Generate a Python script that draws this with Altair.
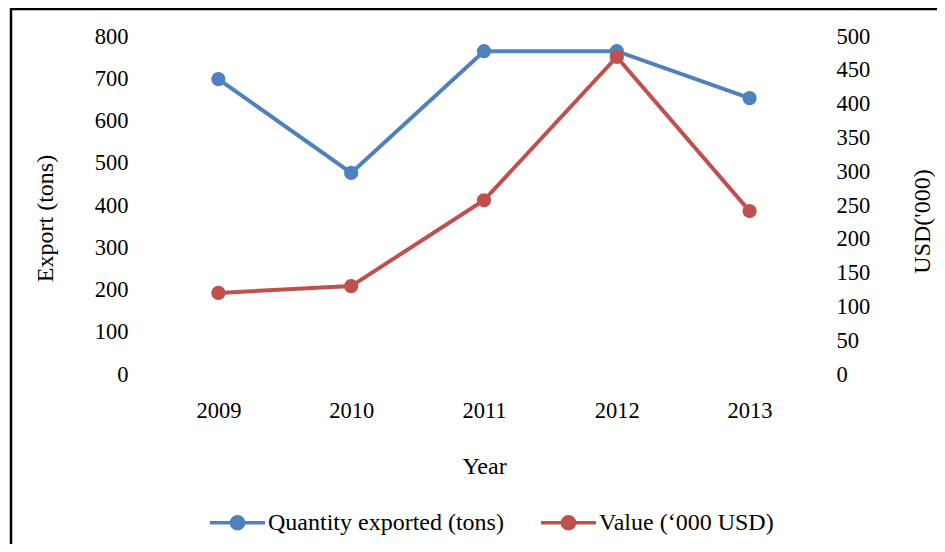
import altair as alt
import pandas as pd

years = ["2009", "2010", "2011", "2012", "2013"]
quantity_tons = [698, 476, 764, 764, 653]
value_usd_000 = [120, 130, 257, 469, 241]
series_names = ["Quantity exported (tons)", "Value (\u2018000 USD)"]
left_ticks = [0, 100, 200, 300, 400, 500, 600, 700, 800]
right_ticks = [0, 50, 100, 150, 200, 250, 300, 350, 400, 450, 500]

BLUE = "#4F81BD"
RED = "#C0504D"
FONT = "Liberation Serif"

df = pd.DataFrame({
    "Year": years * 2,
    "Series": [series_names[0]] * len(years) + [series_names[1]] * len(years),
    "Amount": quantity_tons + value_usd_000,
})

W, H = 664, 338
PAD_L, PAD_T = 144, 28
PAD_R = 929 - PAD_L - W
PAD_B = 536 - PAD_T - H

cscale = alt.Scale(domain=series_names, range=[BLUE, RED])
legend = alt.Legend(
    title=None, orient="none", direction="horizontal",
    legendX=56, legendY=457,
    symbolType="M-1,0L1,0M-0.22,0A0.22,0.22,0,1,1,0.22,0A0.22,0.22,0,1,1,-0.22,0Z",
    symbolSize=3025, symbolStrokeWidth=3.5,
    labelFont=FONT, labelFontSize=24, labelColor="black", labelLimit=0,
    labelOffset=1, columnPadding=30,
)

x_enc = alt.X(
    "Year:O",
    scale=alt.Scale(type="point", padding=0.5),
    axis=alt.Axis(title="Year", labelAngle=0, labelPadding=25, titleY=92,
                  titleBaseline="middle"),
)

left_axis = alt.Axis(
    title="Export (tons)", values=left_ticks, orient="left", labelPadding=24,
    titleAngle=-90, titleX=-107, titleY=182, titleAlign="center", titleBaseline="middle",
)
right_axis = alt.Axis(
    title="USD('000)", values=right_ticks, orient="right", labelPadding=20,
    titleAngle=-90, titleX=106, titleY=185, titleAlign="center", titleBaseline="middle",
)

blue_base = alt.Chart(df).transform_filter(
    alt.datum.Series == series_names[0]
).encode(
    x=x_enc,
    y=alt.Y("Amount:Q", scale=alt.Scale(domain=[0, 800], nice=False), axis=left_axis),
)
blue = alt.layer(
    blue_base.mark_line(color=BLUE, strokeWidth=4),
    blue_base.mark_point(filled=True, size=150, opacity=1).encode(
        fill=alt.Fill("Series:N", scale=cscale, legend=legend),
        stroke=alt.Stroke("Series:N", scale=cscale, legend=legend),
    ),
)

red_base = alt.Chart(df).transform_filter(
    alt.datum.Series == series_names[1]
).encode(
    x=x_enc,
    y=alt.Y("Amount:Q", scale=alt.Scale(domain=[0, 500], nice=False), axis=right_axis),
)
red = alt.layer(
    red_base.mark_line(color=RED, strokeWidth=4),
    red_base.mark_point(filled=True, size=150, opacity=1).encode(
        fill=alt.Fill("Series:N", scale=cscale, legend=legend),
        stroke=alt.Stroke("Series:N", scale=cscale, legend=legend),
    ),
)

frame = alt.Chart(pd.DataFrame({"f": [0]})).mark_rect(
    filled=False, stroke="black", strokeWidth=2.5
).encode(
    x=alt.value(-141), x2=alt.value(W + PAD_R + 20),
    y=alt.value(-27), y2=alt.value(H + PAD_B + 20),
)

chart = alt.layer(blue, red, frame).resolve_scale(y="independent").properties(
    width=W, height=H,
    autosize=alt.AutoSizeParams(type="none"),
    padding={"left": PAD_L, "top": PAD_T, "right": PAD_R, "bottom": PAD_B},
    background="white",
).configure_view(stroke=None).configure_axis(
    domain=False, ticks=False, grid=False,
    labelFont=FONT, labelFontSize=22.5, labelColor="black",
    titleFont=FONT, titleFontSize=24, titleColor="black", titleFontWeight="normal",
)

chart.save("out.html", embed_options={"renderer": "svg", "actions": False})
